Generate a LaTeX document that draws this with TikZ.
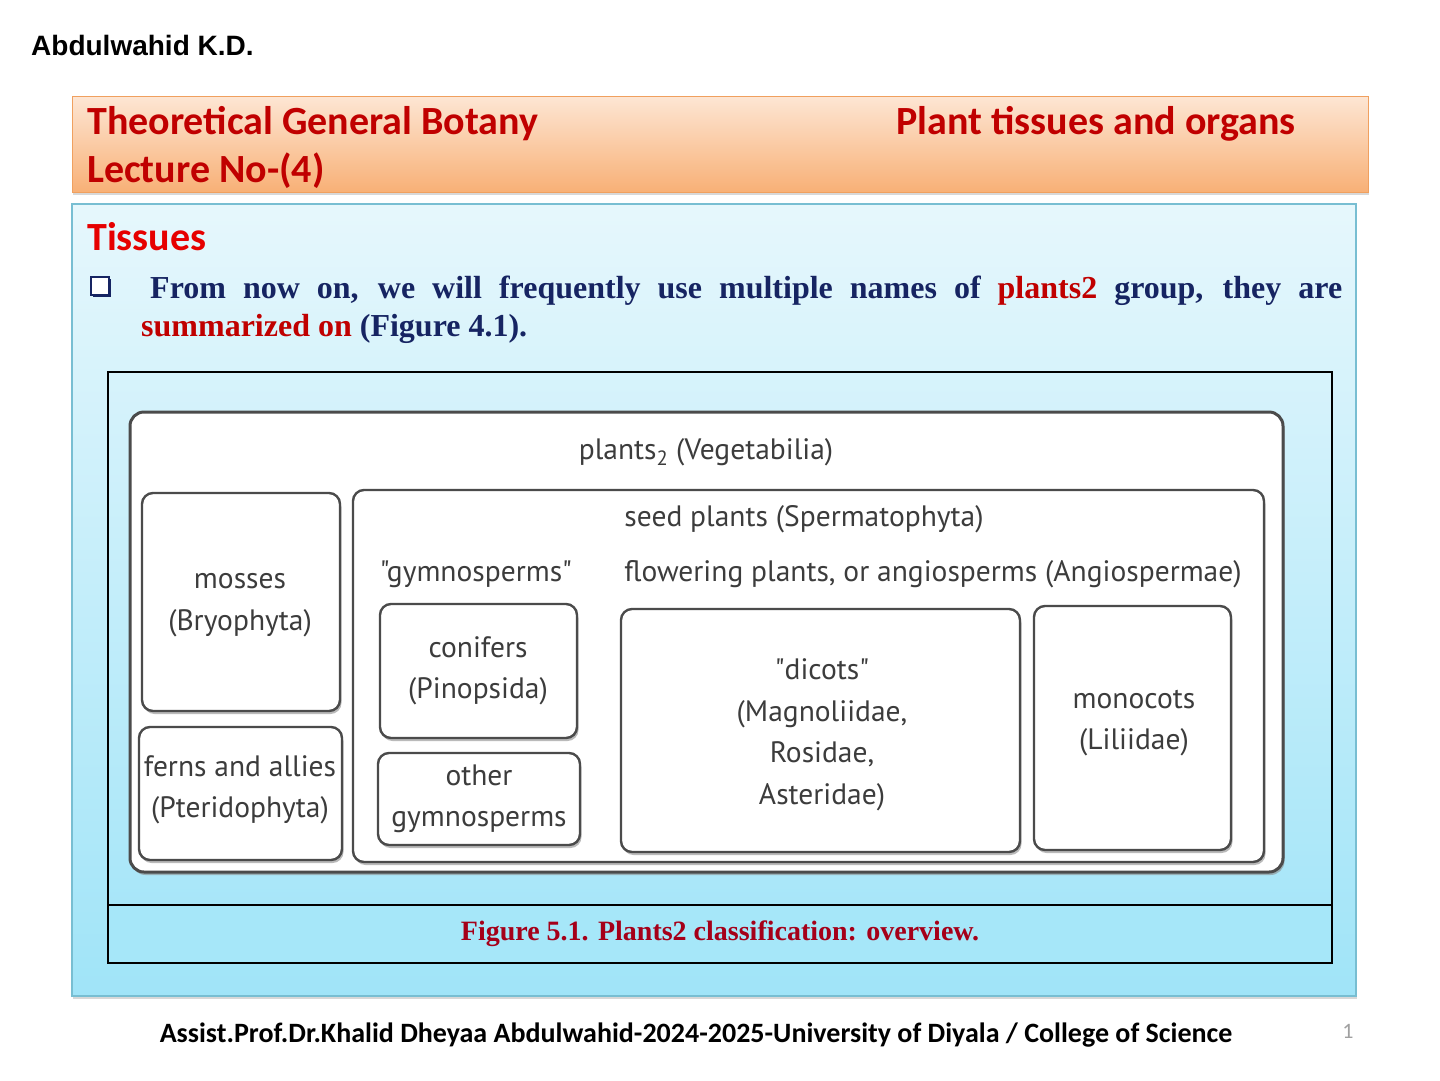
\documentclass[tikz,border=0pt]{standalone}
\usepackage{fontspec}
\setmainfont{Liberation Serif}
\newfontfamily\calibri{Carlito}
\newfontfamily\arialfont{Liberation Sans}
\newfontfamily\diagfont{PT Sans}
\usetikzlibrary{shadows}
\definecolor{titlered}{RGB}{192,0,0}
\definecolor{tissred}{RGB}{230,0,0}
\definecolor{navytxt}{RGB}{22,36,98}
\definecolor{captred}{RGB}{165,0,25}
\definecolor{hdrtop}{RGB}{253,230,212}
\definecolor{hdrbot}{RGB}{248,176,118}
\definecolor{hdrline}{RGB}{240,160,95}
\definecolor{slidetop}{RGB}{230,247,252}
\definecolor{slidebot}{RGB}{160,228,248}
\definecolor{slideline}{RGB}{120,190,210}
\definecolor{capfill}{RGB}{166,231,249}
\definecolor{boxgrey}{RGB}{75,75,75}
\definecolor{diagtext}{RGB}{60,60,60}
\definecolor{pagegrey}{RGB}{160,160,160}

\begin{document}
\begin{tikzpicture}[x=1pt,y=-1pt,
    every node/.style={inner sep=0pt},
    htitle/.style={font=\calibri\bfseries\fontsize{40}{46}\selectfont, text=titlered},
    bodytxt/.style={font=\bfseries\fontsize{32}{38}\selectfont, text=navytxt},
    pbox/.style={draw=boxgrey, line width=2.4pt, rounded corners=11pt, fill=white,
        drop shadow={shadow xshift=1.5pt, shadow yshift=-3pt, fill=black!45, opacity=0.6}},
    ptxt/.style={font=\diagfont\fontsize{29.5}{41.5}\selectfont, text=diagtext, align=center}]
    \useasboundingbox (0,0) rectangle (1440,1080);
    \fill[white] (0,0) rectangle (1440,1080);
    \node[anchor=base west, font=\arialfont\bfseries\fontsize{28}{32}\selectfont] (author) at (31,55) {Abdulwahid K.D.};

    \draw[draw=hdrline, line width=1pt, top color=hdrtop, bottom color=hdrbot,
        drop shadow={shadow xshift=1pt, shadow yshift=-3pt, opacity=0.3}] (72,96) rectangle (1368,192);
    \node[anchor=base west, htitle] (course) at (87,134) {Theoretical General Botany};
    \node[anchor=base west, htitle] (lecture) at (87,182) {Lecture No-(4)};
    \node[anchor=base east, htitle] (topic) at (1296,134) {Plant tissues and organs};

    \draw[draw=slideline, line width=1.2pt, top color=slidetop, bottom color=slidebot,
        drop shadow={shadow xshift=1pt, shadow yshift=-3pt, opacity=0.3}] (72,204) rectangle (1356,996);
    \node[anchor=base west, font=\calibri\bfseries\fontsize{40}{46}\selectfont, text=tissred] (tissues) at (87,250) {Tissues};
    \node[draw=navytxt, line width=1.8pt, fill=white, minimum size=18pt,
        drop shadow={shadow xshift=2pt, shadow yshift=-2pt, fill=navytxt, opacity=1}] (bullet) at (100,286) {};
    \node[anchor=base west, bodytxt] (line1) at (150,298)
        {\makebox[1192pt][s]{From now on, we will frequently use multiple names of \textcolor{titlered}{plants2} group, they are}};
    \node[anchor=base west, bodytxt] (line2) at (141,336)
        {\textcolor{titlered}{summarized on} (Figure 4.1).};

    \fill[capfill] (108,905) rectangle (1332,963);
    \draw[line width=1.5pt] (108,372) rectangle (1332,963);
    \draw[line width=1.5pt] (108,905) -- (1332,905);
    \node[anchor=base, font=\bfseries\fontsize{28}{34}\selectfont, text=captred] (caption) at (720,940)
        {Figure 5.1. Plants2 classification: overview.};

    \draw[pbox, line width=3pt, rounded corners=14pt] (130,412) rectangle (1283,872);
    \draw[pbox] (142,493) rectangle (340,711);
    \draw[pbox] (139,727) rectangle (342,860);
    \draw[pbox] (353,490) rectangle (1264,862);
    \draw[pbox] (380,604) rectangle (577,738);
    \draw[pbox] (378,753) rectangle (580,845);
    \draw[pbox] (621,609) rectangle (1020,852);
    \draw[pbox] (1034,606) rectangle (1231,850);

    \node[ptxt] (plants) at (706,452) {plants\textsubscript{2} (Vegetabilia)};
    \node[ptxt] (mosses) at (240,605) {mosses\\(Bryophyta)};
    \node[ptxt] (ferns) at (240,790) {ferns and allies\\(Pteridophyta)};
    \node[ptxt] (seed) at (804,519) {seed plants (Spermatophyta)};
    \node[ptxt] (gymno) at (476,574) {"gymnosperms"};
    \node[ptxt] (flower) at (933,574) {flowering plants, or angiosperms (Angiospermae)};
    \node[ptxt] (conifers) at (478,671) {conifers\\(Pinopsida)};
    \node[ptxt] (othergym) at (479,799) {other\\gymnosperms};
    \node[ptxt] (dicots) at (822,735) {"dicots"\\(Magnoliidae,\\Rosidae,\\Asteridae)};
    \node[ptxt] (monocots) at (1134,723) {monocots\\(Liliidae)};

    \node[anchor=base, font=\calibri\bfseries\fontsize{28}{32}\selectfont] (footer) at (696,1042)
        {Assist.Prof.Dr.Khalid Dheyaa Abdulwahid-2024-2025-University of Diyala / College of Science};
    \node[font=\calibri\fontsize{22}{26}\selectfont, text=pagegrey] (pagenum) at (1348,1031) {1};
\end{tikzpicture}
\end{document}
